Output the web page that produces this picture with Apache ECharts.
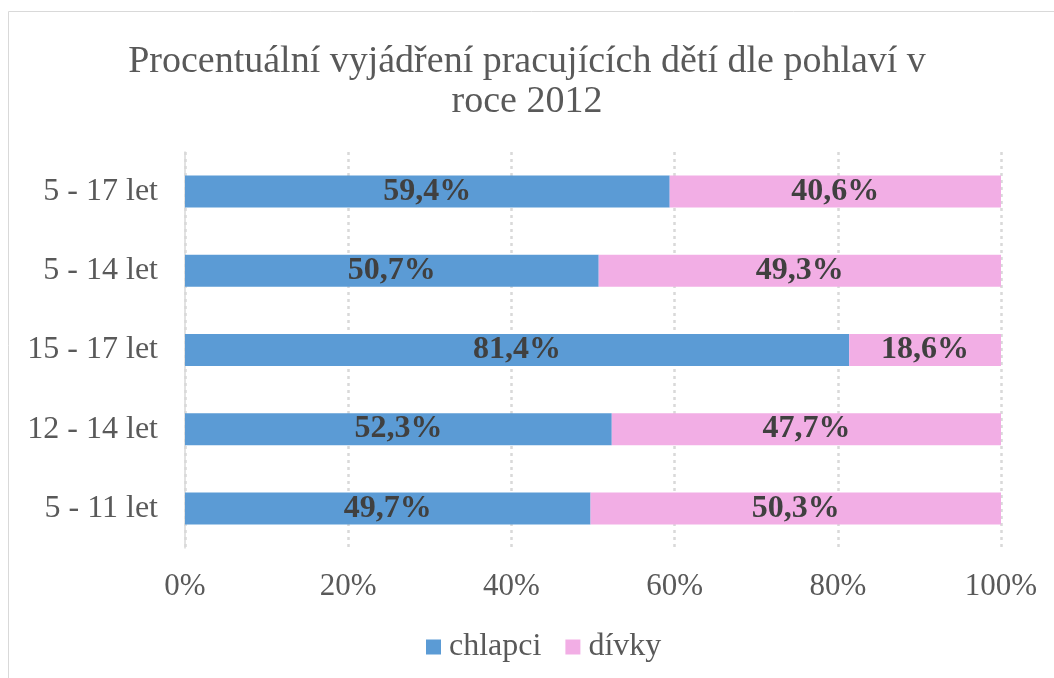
<!DOCTYPE html>
<html>
<head>
<meta charset="utf-8">
<script src="https://cdn.jsdelivr.net/npm/echarts@6/dist/echarts.min.js"></script>
<style>
  html, body { margin: 0; padding: 0; background: #fff; }
  #main { width: 1054px; height: 678px; }
</style>
</head>
<body>
<div id="main"></div>
<script>
var categories = ['5 - 11 let', '12 - 14 let', '15 - 17 let', '5 - 14 let', '5 - 17 let'];
var chlapci = [49.7, 52.3, 81.4, 50.7, 59.4];
var divky = [50.3, 47.7, 18.6, 49.3, 40.6];
var xTicks = [0, 20, 40, 60, 80, 100];

var serif = '"Liberation Serif", "Times New Roman", serif';

var myChart = echarts.init(document.getElementById('main'));

function pct(v) {
    return v.toFixed(1).replace('.', ',') + '%';
}

option = {
    animation: false,
    textStyle: { fontFamily: serif },
    graphic: [{
        type: 'rect',
        shape: { x: 8.5, y: 11.5, width: 1100, height: 700 },
        style: { fill: 'none', stroke: '#d9d9d9', lineWidth: 1 }
    }],
    title: {
        text: 'Procentuální vyjádření pracujících dětí dle pohlaví v\nroce 2012',
        left: 'center',
        top: 37,
        textStyle: {
            fontFamily: serif,
            fontWeight: 'normal',
            fontSize: 38,
            lineHeight: 40,
            color: '#595959'
        }
    },
    legend: {
        data: ['chlapci', 'dívky'],
        bottom: 10,
        left: 421,
        itemWidth: 15,
        itemHeight: 15,
        itemGap: 24,
        icon: 'rect',
        textStyle: { fontFamily: serif, fontSize: 32, color: '#595959', padding: [0, 0, 0, 3] }
    },
    grid: {
        left: 185,
        right: 53,
        top: 152,
        bottom: 130
    },
    xAxis: {
        type: 'value',
        min: 0,
        max: 100,
        interval: 20,
        axisLine: { show: false },
        axisTick: { show: false },
        axisLabel: {
            fontFamily: serif,
            fontSize: 31,
            color: '#595959',
            margin: 23,
            formatter: function (v) { return xTicks.indexOf(v) >= 0 ? v + '%' : ''; }
        },
        splitLine: {
            show: true,
            lineStyle: { color: '#d9d9d9', width: 2.5, type: [3, 4] }
        }
    },
    yAxis: {
        type: 'category',
        data: categories,
        axisLine: { show: true, lineStyle: { color: '#d9d9d9', width: 1.5 } },
        axisTick: { show: false },
        axisLabel: {
            fontFamily: serif,
            fontSize: 32,
            color: '#595959',
            margin: 27
        }
    },
    series: [{
        name: 'chlapci',
        type: 'bar',
        stack: 'total',
        data: chlapci,
        barWidth: 32,
        itemStyle: { color: '#5b9bd5' },
        label: {
            show: true,
            position: 'inside',
            fontFamily: serif,
            fontWeight: 'bold',
            fontSize: 32,
            color: '#404040',
            formatter: function (p) { return pct(p.value); }
        }
    }, {
        name: 'dívky',
        type: 'bar',
        stack: 'total',
        data: divky,
        barWidth: 32,
        itemStyle: { color: '#f2aee5' },
        label: {
            show: true,
            position: 'inside',
            fontFamily: serif,
            fontWeight: 'bold',
            fontSize: 32,
            color: '#404040',
            formatter: function (p) { return pct(p.value); }
        }
    }]
};

myChart.setOption(option);
</script>
</body>
</html>
